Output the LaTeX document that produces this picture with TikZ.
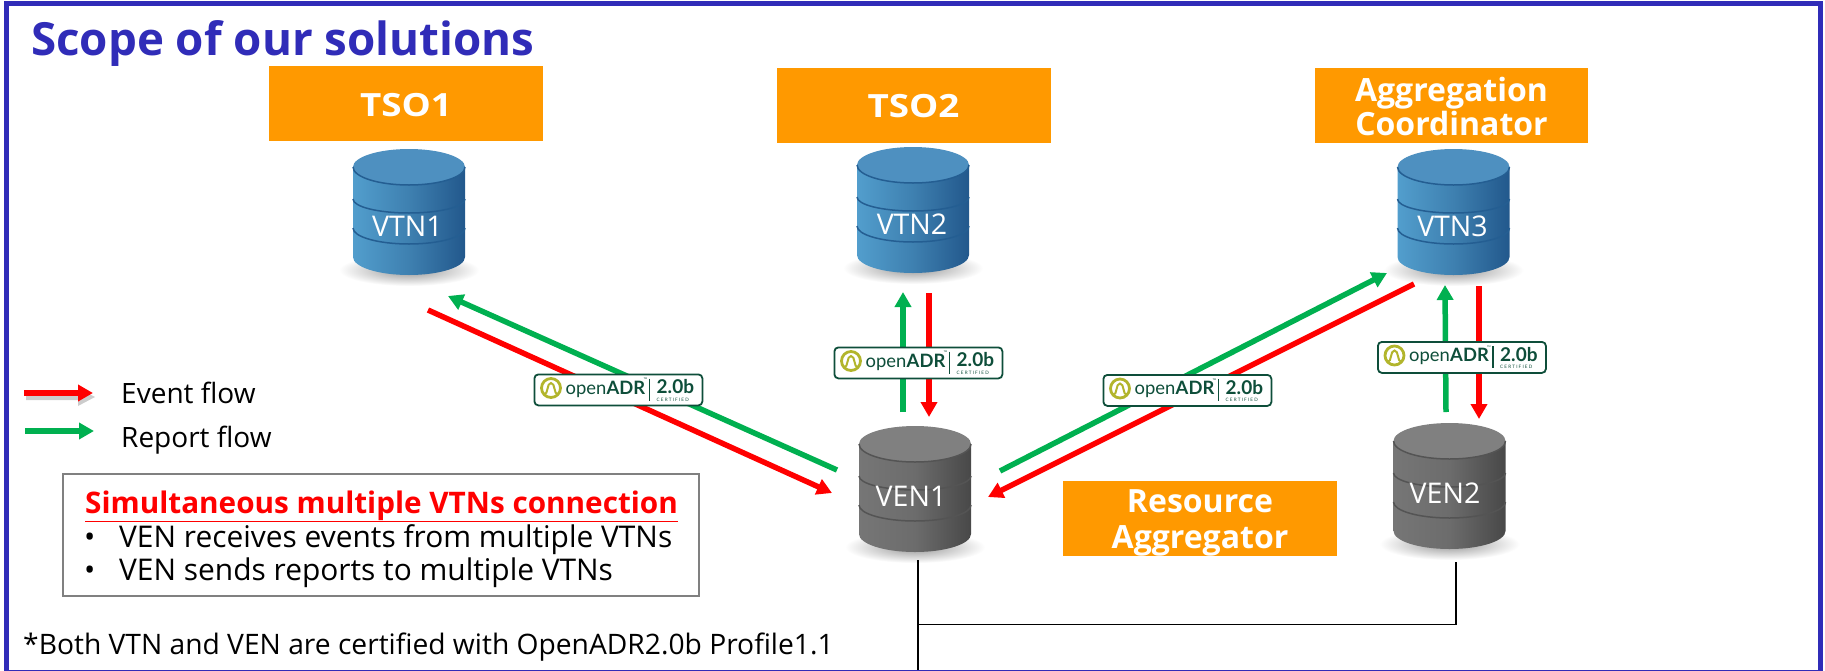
\documentclass[tikz,border=0pt]{standalone}
\usepackage{fontspec}
\setmainfont{Open Sans}
\newfontfamily\badgefont{Lato}
\usetikzlibrary{arrows.meta,calc,shapes.geometric}
\definecolor{framecol}{RGB}{48,44,184}
\definecolor{orangecol}{RGB}{255,153,0}
\definecolor{redcol}{RGB}{255,0,0}
\definecolor{greencol}{RGB}{0,176,80}
\definecolor{badgecol}{RGB}{14,78,58}
\definecolor{olivecol}{RGB}{178,181,44}
\definecolor{blL}{RGB}{82,158,205}
\definecolor{blM}{RGB}{62,128,176}
\definecolor{blR}{RGB}{34,88,140}
\definecolor{blT}{RGB}{78,144,192}
\definecolor{blE}{RGB}{36,94,146}
\definecolor{grL}{RGB}{118,118,118}
\definecolor{grM}{RGB}{108,108,108}
\definecolor{grR}{RGB}{72,72,72}
\definecolor{grT}{RGB}{128,128,128}
\definecolor{grE}{RGB}{84,84,84}
\newcommand\fsz[1]{\fontsize{#1}{#1}\selectfont}
\tikzset{
  x=1pt,y=-1pt,
  rolebox/.style={fill=orangecol,draw=none,text=white,font=\fsz{32}\bfseries,align=center,inner sep=0pt,text depth=0pt},
  cylbox/.style={draw=none,minimum width=112pt,minimum height=126pt,inner sep=0pt},
  cyltext/.style={text=white,font=\fsz{28.5},inner sep=0pt},
  flowr/.style={draw=redcol,line width=5.5pt,-{Triangle[length=15pt,width=16pt]}},
  flowg/.style={draw=greencol,line width=5.5pt,-{Triangle[length=15pt,width=16pt]}},
  wire/.style={draw=black,line width=1.8pt},
  badgebox/.style={draw=badgecol,fill=white,line width=1.8pt,rounded corners=4pt,inner sep=0pt},
  btext/.style={text=badgecol,inner sep=0pt,anchor=base west},
  plain/.style={text=black,inner sep=0pt,anchor=base west,font=\fsz{29.9}},
  legendtext/.style={text=black,inner sep=0pt,anchor=base west,font=\fsz{28}},
}
% #1 name #2 cx #3 top y #4 left #5 mid #6 right #7 top colour #8 edge colour
\newcommand\cyl[8]{%
  \begin{scope}[shift={(#2,#3)}]
    \shade[inner color=black!42,outer color=white] (0,121) ellipse [x radius=70,y radius=16];
    \path[left color=#4,right color=#6,middle color=#5] (-56,18) -- (-56,108) arc [start angle=180,end angle=0,x radius=56,y radius=18] -- (56,18) -- cycle;
    \fill[#7] (0,18) ellipse [x radius=56,y radius=18];
    \draw[#8,line width=1.5pt] (-56,18) arc [start angle=180,end angle=0,x radius=56,y radius=18];
    \draw[#8,line width=1.5pt] (-56,50) arc [start angle=180,end angle=0,x radius=56,y radius=14];
    \draw[#8,line width=1.5pt] (-56,79) arc [start angle=180,end angle=0,x radius=56,y radius=16];
    \node[cylbox] (#1) at (0,63) {};
  \end{scope}}
% #1 name #2 left #3 top
\newcommand\adr[3]{%
  \begin{scope}[shift={(#2,#3)}]
    \node[badgebox,minimum width=168pt,minimum height=31pt,anchor=north west] (#1) at (0,0) {};
    \draw[olivecol,line width=2.8pt] (17.5,14.5) circle [radius=9.5];
    \draw[olivecol,line width=2pt] (10.5,21) .. controls (15,21) and (13,9.5) .. (17.5,9.5) .. controls (22,9.5) and (20,21) .. (24.5,21);
    \node[btext,font=\badgefont\fsz{18.4}] (#1o) at (32,20.5) {open};
    \node[btext,font=\badgefont\bfseries\fsz{18.4}] (#1a) at (73,20.5) {ADR};
    \node[btext,font=\badgefont\fsz{5}] (#1t) at (110,8) {™};
    \draw[badgecol,line width=1.5pt] (116,5) -- (116,27);
    \node[btext,font=\badgefont\bfseries\fsz{19}] (#1v) at (123,20) {2.0b};
    \node[btext,font=\badgefont\fsz{4.6}] (#1c) at (123,27.5) {C E R T I F I E D};
  \end{scope}}
\begin{document}
\begin{tikzpicture}
\useasboundingbox (0,0) rectangle (1825,670);
\begin{scope}
\clip (0,0) rectangle (1825,670);
\fill[white] (0,0) rectangle (1825,670);
\draw[framecol,line width=5pt] (6.3,3.7) rectangle (1820.5,672);
\end{scope}
% title
\node[text=framecol,font=\fsz{45.7}\bfseries,inner sep=0pt,anchor=base west] (title) at (31,55) {Scope of our solutions};
% role boxes
\node[rolebox,minimum width=274pt,minimum height=75pt] (tso1) at (406,103.5) {\raisebox{-3pt}{\scalebox{1.15}[1]{TSO1}}};
\node[rolebox,minimum width=274pt,minimum height=75pt] (tso2) at (913.5,105) {\raisebox{-2pt}{\scalebox{1.15}[1]{TSO2}}};
\node[rolebox,minimum width=273pt,minimum height=75pt] (ac) at (1451.5,105.5) {\raisebox{-1.5pt}{Aggregation}\\[2pt]\raisebox{-2pt}{Coordinator}};
\node[rolebox,minimum width=274pt,minimum height=75pt] (ra) at (1200,518) {\raisebox{-2pt}{Resource}\\[4pt]\raisebox{-2pt}{Aggregator}};
% cylinders
\cyl{vtn1}{409}{149}{blL}{blM}{blR}{blT}{blE}
\cyl{vtn2}{913}{147}{blL}{blM}{blR}{blT}{blE}
\cyl{vtn3}{1453.5}{149}{blL}{blM}{blR}{blT}{blE}
\cyl{ven1}{915}{426}{grL}{grM}{grR}{grT}{grE}
\cyl{ven2}{1449.5}{423}{grL}{grM}{grR}{grT}{grE}
\node[cyltext] (vtn1t) at (407.5,226) {VTN1};
\node[cyltext] (vtn2t) at (912,224) {VTN2};
\node[cyltext] (vtn3t) at (1452.5,226) {VTN3};
\node[cyltext] (ven1t) at (911,496) {VEN1};
\node[cyltext] (ven2t) at (1445,493) {VEN2};
% wires between VEN
\coordinate (j) at (918,624.5);
\coordinate (wb) at (918,670);
\draw[wire] ($(ven2.south)+(6.5,13)$) |- (j);
\draw[wire] ($(ven1.south)+(3,8)$) -- (wb);
% flows
\draw[flowg] ($(ven1)+(-78,-19)$) -- ($(vtn1)+(39,84)$);
\draw[flowr] ($(vtn1)+(19,98)$) -- ($(ven1)+(-83,4)$);
\draw[flowg] ($(ven1)+(-12,-77)$) -- ($(vtn2)+(-10,82)$);
\draw[flowr] ($(vtn2)+(16,83)$) -- ($(ven1)+(14,-72)$);
\draw[flowg] ($(ven1)+(85,-18)$) -- ($(vtn3)+(-66.5,61)$);
\draw[flowr] ($(vtn3)+(-39.5,72)$) -- ($(ven1)+(73,8)$);
\draw[flowg] ($(ven2)+(-3.5,-74)$) -- ($(vtn3)+(-8.5,73)$);
\draw[flowr] ($(vtn3)+(25.5,74)$) -- ($(ven2)+(29.5,-67)$);
% badges
\adr{b1}{533.5}{373.5}
\adr{b2}{833.5}{346.5}
\adr{b3}{1102.5}{374}
\adr{b4}{1377}{341}
% legend
\coordinate (e0) at (24,393); \coordinate (e1) at (93,393);
\coordinate (r0) at (25,431); \coordinate (r1) at (94,431);
\fill[black,opacity=.2] (26,395) -- (78,395) -- (78,388) -- (95,397) -- (78,406) -- (78,400) -- (26,400) -- cycle;
\draw[flowr] (e0) -- (e1);
\draw[flowg] (r0) -- (r1);
\node[legendtext] (evt) at (121,403.5) {Event flow};
\node[legendtext] (rep) at (121,447) {Report flow};
% box
\node[draw=black!50,line width=1.8pt,fill=none,minimum width=636pt,minimum height=122pt,inner sep=0pt] (note) at (381,535) {};
\node[text=redcol,font=\fsz{29.7}\bfseries,inner sep=0pt,anchor=base west] (noteh) at (85,513) {\underline{Simultaneous multiple VTNs connection}};
\node[plain] (bu1) at (84,547) {•};
\node[plain] (l1) at (119,547) {VEN receives events from multiple VTNs};
\node[plain] (bu2) at (84,580) {•};
\node[plain] (l2) at (119,580) {VEN sends reports to multiple VTNs};
\node[plain,font=\fsz{28.2}] (foot) at (23,654) {*Both VTN and VEN are certified with OpenADR2.0b Profile1.1};
\end{tikzpicture}
\end{document}
